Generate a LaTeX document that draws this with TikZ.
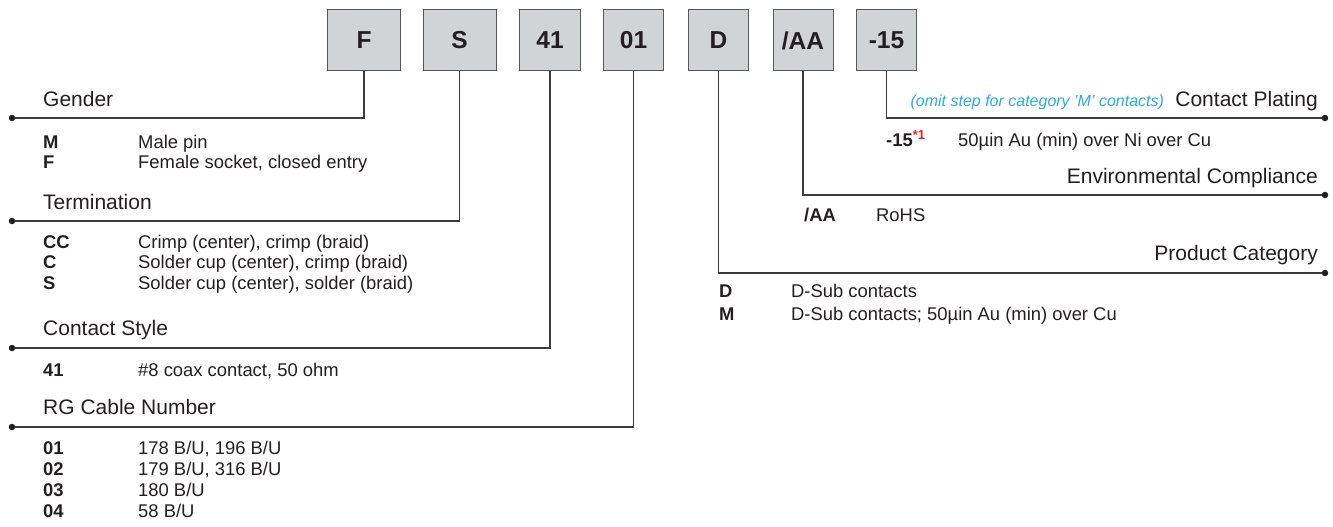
\documentclass[tikz,border=0pt]{standalone}
\usepackage{fontspec}
\setmainfont{Liberation Sans}
\definecolor{boxfill}{HTML}{D1D3D4}
\definecolor{boxline}{HTML}{58595B}
\definecolor{wirec}{HTML}{3C3C3C}
\definecolor{notec}{HTML}{29ABE2}
\definecolor{redc}{HTML}{ED1C24}
\definecolor{ink}{HTML}{231F20}
\begin{document}
\begin{tikzpicture}[x=1pt,y=-1pt,
  codebox/.style={draw=boxline,line width=1pt,fill=boxfill,minimum height=61pt,inner sep=0pt,font=\fontsize{24.5}{28}\selectfont\bfseries,text=ink},
  wire/.style={draw=wirec,line width=1.1pt},
  heading/.style={inner sep=0pt,font=\fontsize{21}{24}\selectfont,text=ink},
  code/.style={inner sep=0pt,anchor=base west,font=\fontsize{18.4}{20}\selectfont\bfseries,text=ink},
  desc/.style={inner sep=0pt,anchor=base west,font=\fontsize{18.4}{20}\selectfont,text=ink},
  notetext/.style={inner sep=0pt,anchor=base east,font=\fontsize{16}{18}\selectfont\itshape,text=notec},
  enddot/.style={circle,fill=ink,inner sep=0pt,minimum size=6.5pt}
]
\useasboundingbox (0,0) rectangle (1333,527);

% code boxes
\node[codebox,minimum width=73pt] (bF)  at (364,40.5) {F};
\node[codebox,minimum width=73pt] (bS)  at (459.5,40.5) {S};
\node[codebox,minimum width=61pt] (b41) at (550,40.5) {41};
\node[codebox,minimum width=60pt] (b01) at (633.5,40.5) {01};
\node[codebox,minimum width=60pt] (bD)  at (718.5,40.5) {D};
\node[codebox,minimum width=60pt] (bAA) at (803,40.5) {/AA};
\node[codebox,minimum width=60pt] (b15) at (886.5,40.5) {-15};

% end dots
\node[enddot] (dG)  at (12,118) {};
\node[enddot] (dT)  at (12,221) {};
\node[enddot] (dC)  at (12,348) {};
\node[enddot] (dR)  at (12,427) {};
\node[enddot] (dP)  at (1325,118) {};
\node[enddot] (dE)  at (1325,195) {};
\node[enddot] (dPC) at (1325,273) {};

% connectors
\draw[wire] (bF.south)  |- (dG);
\draw[wire] (bS.south)  |- (dT);
\draw[wire] (b41.south) |- (dC);
\draw[wire] (b01.south) |- (dR);
\draw[wire] (b15.south) |- (dP);
\draw[wire] (bAA.south) |- (dE);
\draw[wire] (bD.south)  |- (dPC);

% left: Gender
\node[heading,anchor=base west] (hG) at (43,106) {Gender};
\node[code] (cM) at (43,148) {M};
\node[desc] (tM) at (138,148) {Male pin};
\node[code] (cF) at (43,168) {F};
\node[desc] (tF) at (138,168) {Female socket, closed entry};

% Termination
\node[heading,anchor=base west] (hT) at (43,209.5) {Termination};
\node[code] (cCC) at (43,248) {CC};
\node[desc] (tCC) at (138,248) {Crimp (center), crimp (braid)};
\node[code] (cC) at (43,268.5) {C};
\node[desc] (tC) at (138,268.5) {Solder cup (center), crimp (braid)};
\node[code] (cS) at (43,289) {S};
\node[desc] (tS) at (138,289) {Solder cup (center), solder (braid)};

% Contact Style
\node[heading,anchor=base west] (hC) at (43,335) {Contact Style};
\node[code] (c41) at (43,376) {41};
\node[desc] (t41) at (138,376) {\#8 coax contact, 50 ohm};

% RG Cable Number
\node[heading,anchor=base west] (hR) at (43,414.5) {RG Cable Number};
\node[code] (c01) at (43,454.5) {01};
\node[desc] (t01) at (138,454.5) {178 B/U, 196 B/U};
\node[code] (c02) at (43,475.5) {02};
\node[desc] (t02) at (138,475.5) {179 B/U, 316 B/U};
\node[code] (c03) at (43,496.5) {03};
\node[desc] (t03) at (138,496.5) {180 B/U};
\node[code] (c04) at (43,517.5) {04};
\node[desc] (t04) at (138,517.5) {58 B/U};

% right: Contact Plating
\node[heading,anchor=base east] (hP) at (1318,106) {Contact Plating};
\node[notetext] (nP) at ([xshift=-11pt]hP.base west) {(omit step for category 'M' contacts)};
\node[code] (c15) at (886,146) {-15\textcolor{redc}{\raisebox{7pt}{\fontsize{13}{13}\selectfont *1}}};
\node[desc] (t15) at (958,146) {50µin Au (min) over Ni over Cu};

% Environmental Compliance
\node[heading,anchor=base east] (hE) at (1318,183) {Environmental Compliance};
\node[code] (cAA) at (804,221) {/AA};
\node[desc] (tAA) at (876,221) {RoHS};

% Product Category
\node[heading,anchor=base east] (hPC) at (1318,260) {Product Category};
\node[code] (cD) at (719,297.5) {D};
\node[desc] (tD) at (791,297.5) {D-Sub contacts};
\node[code] (cM2) at (719,320) {M};
\node[desc] (tM2) at (791,320) {D-Sub contacts; 50µin Au (min) over Cu};
\end{tikzpicture}
\end{document}
